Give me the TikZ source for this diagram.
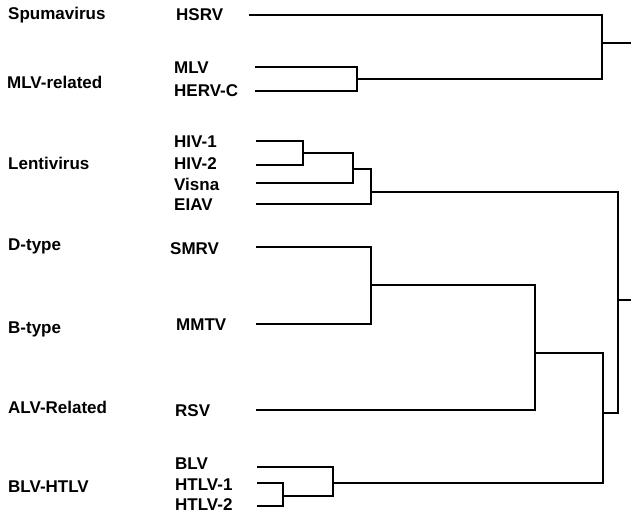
\documentclass[tikz,border=0pt]{standalone}
\usepackage{fontspec}
\setmainfont{Liberation Sans}
\usepackage{tikz}
\usetikzlibrary{positioning}

\begin{document}
\begin{tikzpicture}[
  x=1pt, y=-1pt,
  family/.style={anchor=west, inner sep=0pt, font=\fontsize{17}{19}\selectfont\bfseries},
  leaf/.style={family},
  branch/.style={line width=1.4pt, line cap=rect, color=black}
]
  \useasboundingbox (0,0) rectangle (631,514);

  \node[family] (spuma) at (8,15) {Spumavirus};
  \node[family] (mlvrel) at (7,82) {MLV-related};
  \node[family] (lenti) at (8,163) {Lentivirus};
  \node[family] (dtype) at (8,246) {D-type};
  \node[family] (btype) at (8,329) {B-type};
  \node[family] (alvrel) at (8,407) {ALV-Related};
  \node[family] (blvhtlv) at (8,487) {BLV-HTLV};

  \node[leaf] (hsrv) at (176,15) {HSRV};
  \node[leaf] (mlv) at (174,68) {MLV};
  \node[leaf] (hervc) at (174,91) {HERV-C};
  \node[leaf] (hiv1) at (174,142) {HIV-1};
  \node[leaf] (hiv2) at (174,164) {HIV-2};
  \node[leaf] (visna) at (174,184) {Visna};
  \node[leaf] (eiav) at (174,205) {EIAV};
  \node[leaf] (smrv) at (170,249) {SMRV};
  \node[leaf] (mmtv) at (176,325) {MMTV};
  \node[leaf] (rsv) at (175,411) {RSV};
  \node[leaf] (blv) at (175,464) {BLV};
  \node[leaf] (htlv1) at (175,485) {HTLV-1};
  \node[leaf] (htlv2) at (175,505) {HTLV-2};

  \coordinate (hsrv-s) at (250,15);
  \coordinate (mlv-s) at (256,67);
  \coordinate (hervc-s) at (256,91);
  \coordinate (hiv1-s) at (257,141);
  \coordinate (hiv2-s) at (257,165);
  \coordinate (visna-s) at (257,183);
  \coordinate (eiav-s) at (257,204);
  \coordinate (smrv-s) at (257,247);
  \coordinate (mmtv-s) at (257,324);
  \coordinate (rsv-s) at (257,410);
  \coordinate (blv-s) at (258,467);
  \coordinate (htlv1-s) at (258,483);
  \coordinate (htlv2-s) at (258,506);

  \coordinate (j-mlv) at (357,79);
  \coordinate (j-top) at (602,43);
  \coordinate (j-hiv) at (303,153);
  \coordinate (j-visna) at (353,169);
  \coordinate (j-lenti) at (371,192);
  \coordinate (j-bd) at (371,285);
  \coordinate (j-alv) at (535,353);
  \coordinate (j-htlv) at (283,496);
  \coordinate (j-blv) at (333,483);
  \coordinate (j-rest) at (603,413);
  \coordinate (j-low) at (618,300);
  \coordinate (top-out) at (631,43);
  \coordinate (low-out) at (631,300);

  \draw[branch] (mlv-s) -| (j-mlv) |- (hervc-s);
  \draw[branch] (hsrv-s) -| (j-top) |- (j-mlv);
  \draw[branch] (j-top) -- (top-out);

  \draw[branch] (hiv1-s) -| (j-hiv) |- (hiv2-s);
  \draw[branch] (j-hiv) -| (j-visna) |- (visna-s);
  \draw[branch] (j-visna) -| (j-lenti) |- (eiav-s);

  \draw[branch] (smrv-s) -| (j-bd) |- (mmtv-s);
  \draw[branch] (j-bd) -| (j-alv) |- (rsv-s);

  \draw[branch] (htlv1-s) -| (j-htlv) |- (htlv2-s);
  \draw[branch] (blv-s) -| (j-blv) |- (j-htlv);
  \draw[branch] (j-alv) -| (j-rest) |- (j-blv);

  \draw[branch] (j-lenti) -| (j-low) |- (j-rest);
  \draw[branch] (j-low) -- (low-out);
\end{tikzpicture}
\end{document}
